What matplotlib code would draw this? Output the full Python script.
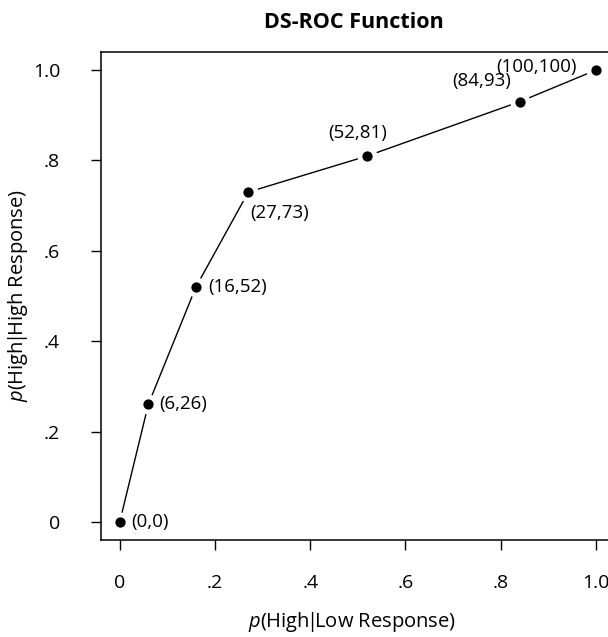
import matplotlib
matplotlib.use('Agg')
import matplotlib.pyplot as plt

# DS-ROC points (false alarm rate, hit rate) and their labels
p_low = [0.0, 0.06, 0.16, 0.27, 0.52, 0.84, 1.0]
p_high = [0.0, 0.26, 0.52, 0.73, 0.81, 0.93, 1.0]
point_labels = ['(0,0)', '(6,26)', '(16,52)', '(27,73)', '(52,81)', '(84,93)', '(100,100)']

tick_vals = [0, 0.2, 0.4, 0.6, 0.8, 1.0]
tick_text = ['0', '.2', '.4', '.6', '.8', '1.0']

# where each label sits relative to its point (pixels, ha)
label_place = [(12, 0, 'left'), (11, 0, 'left'), (12, 0, 'left'), (2, -21, 'left'),
               (-10, 23, 'center'), (-9, 21, 'right'), (-19, 3, 'right')]

plt.rcParams['font.family'] = ['Open Sans', 'DejaVu Sans']
plt.rcParams['mathtext.fontset'] = 'custom'
plt.rcParams['mathtext.it'] = 'Open Sans:italic'
plt.rcParams['mathtext.rm'] = 'Open Sans'

fs = 13.5
fig = plt.figure(figsize=(6.08, 6.37), dpi=100)
ax = fig.add_axes([100.7 / 608, 97 / 637, 514.3 / 608, 488 / 637])

# line first, white halo to leave a gap like R's type="b", then the dots
ax.plot(p_low, p_high, color='black', lw=1.0, zorder=1)
ax.plot(p_low, p_high, ls='none', marker='o', ms=14.4, mfc='white', mec='none', zorder=2)
ax.plot(p_low, p_high, ls='none', marker='o', ms=7.4, mfc='black', mec='none', zorder=3)

for x, y, txt, (dx, dy, ha) in zip(p_low, p_high, point_labels, label_place):
    ax.annotate(txt, (x, y), xytext=(dx, dy), textcoords='offset pixels',
                ha=ha, va='center', fontsize=fs, zorder=4)

ax.set_xlim(-0.04, 1.04)
ax.set_ylim(-0.04, 1.04)
ax.set_xticks(tick_vals)
ax.set_xticklabels(tick_text)
ax.set_yticks(tick_vals)
ax.set_yticklabels(tick_text)
ax.tick_params(axis='x', length=7.2, width=1.0, pad=17, labelsize=14)
ax.tick_params(axis='y', length=7.2, width=1.0, pad=22, labelsize=14)
for sp in ax.spines.values():
    sp.set_linewidth(1.1)

ax.set_xlabel(r'$p$(High$\!|\!$Low Response)', fontsize=14.5, va='center')
ax.xaxis.set_label_coords(0.4886, -0.168)
ax.set_ylabel(r'$p$(High$\!|\!$High Response)', fontsize=14.5, va='center')
ax.yaxis.set_label_coords(-0.1608, 0.5)

fig.text(354 / 608, 1 - 22 / 637, 'DS-ROC Function', fontsize=15.5, fontweight='bold',
         ha='center', va='center')

fig.savefig('out.png', dpi=100)
